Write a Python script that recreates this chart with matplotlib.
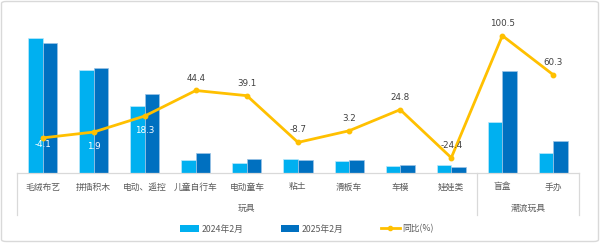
import matplotlib
matplotlib.use("Agg")
import matplotlib.pyplot as plt
from matplotlib.patches import FancyBboxPatch, Patch
from matplotlib.lines import Line2D
import matplotlib.transforms as mtransforms

plt.rcParams['font.family'] = ['Noto Sans CJK SC', 'DejaVu Sans']

categories = ['毛绒布艺', '拼插积木', '电动、遥控', '儿童自行车', '电动童车', '粘土',
              '滑板车', '车模', '娃娃类', '盲盒', '手办']
groups = ['玩具', '潮流玩具']
group_sizes = [9, 2]
series_2024 = [135.3, 102.7, 66.7, 13.3, 10.0, 13.7, 12.0, 7.0, 8.3, 51.0, 19.7]
series_2025 = [130.3, 104.7, 79.0, 19.7, 13.7, 12.7, 12.7, 8.3, 6.3, 102.3, 31.7]
yoy = [-4.1, 1.9, 18.3, 44.4, 39.1, -8.7, 3.2, 24.8, -24.4, 100.5, 60.3]
legend_labels = ['2024年2月', '2025年2月', '同比(%)']

C1 = '#00B0F0'
C2 = '#0070C0'
CL = '#FFC000'
TXT = '#595959'
NUM = '#404040'

W, H = 600, 243
fig = plt.figure(figsize=(6, 2.43), dpi=100)
fig.patch.set_facecolor('white')
border = FancyBboxPatch((1.5 / W, 1.5 / H), 1 - 3 / W, 1 - 3 / H,
                        boxstyle='round,pad=0,rounding_size=0.008',
                        transform=fig.transFigure, facecolor='none',
                        edgecolor='#D9D9D9', linewidth=1.0)
fig.patches.append(border)

left, right, ybase, ytop = 17, 579, 173, 16.6
ax = fig.add_axes([left / W, 1 - ybase / H, (right - left) / W, (ybase - ytop) / H])
ax.patch.set_alpha(0)
n = len(categories)
x = list(range(n))
bw = 0.284
ax.bar([i - bw / 2 for i in x], series_2024, width=bw, color=C1, edgecolor='#BDE9FA', linewidth=0.5)
ax.bar([i + bw / 2 for i in x], series_2025, width=bw, color=C2, edgecolor='#9CC3E5', linewidth=0.5)
ax.set_xlim(-0.5, n - 0.5)
ax.set_ylim(0, ybase - ytop)
ax.set_yticks([])
ax.set_xticks([])
for s in ax.spines.values():
    s.set_visible(False)

ax2 = ax.twinx()
ax2.set_ylim(-40, 120)
ax2.plot(x, yoy, color=CL, linewidth=2, marker='o', markersize=3.2, zorder=5)
ax2.set_yticks([])
for s in ax2.spines.values():
    s.set_visible(False)

# data labels
offsets = [-7, -14, -14, 12, 12, 12.5, 12.5, 12, 12, 11.7, 12.5]
for i, (v, off) in enumerate(zip(yoy, offsets)):
    col = 'white' if off < 0 else NUM
    ax2.annotate(f'{v}', (i, v), xytext=(0, off * 0.72), textcoords='offset points',
                 ha='center', va='center', fontsize=6.3, color=col,
                 family=['DejaVu Sans'], zorder=6)

# category axis
trans = mtransforms.blended_transform_factory(ax.transData, ax.transAxes)
ph = ybase - ytop
axis_col = '#D9D9D9'
ax.plot([-0.5, n - 0.5], [0, 0], transform=trans, color=axis_col, lw=0.9, clip_on=False)
seps = [-0.5]
acc = -0.5
for g in group_sizes:
    acc += g
    seps.append(acc)
for s in seps:
    ax.plot([s, s], [0, -42 / ph], transform=trans, color=axis_col, lw=0.9, clip_on=False)
for i, c in enumerate(categories):
    ax.text(i, -14 / ph, c, transform=trans, ha='center', va='center', fontsize=6.3, color=TXT)
for gi, g in enumerate(groups):
    cx = (seps[gi] + seps[gi + 1]) / 2
    ax.text(cx, -35 / ph, g, transform=trans, ha='center', va='center', fontsize=6.3, color=TXT)

handles = [Patch(facecolor=C1, edgecolor='none'), Patch(facecolor=C2, edgecolor='none'),
           Line2D([0], [0], color=CL, lw=2, marker='o', markersize=3)]
fig.legend(handles, legend_labels, loc='center', bbox_to_anchor=(307 / W, 1 - 229 / H),
           ncol=3, frameon=False, fontsize=6.3, handlelength=2.1, handleheight=0.8,
           handletextpad=0.3, columnspacing=4.3, labelcolor=TXT)

fig.savefig('out.png', dpi=100)
